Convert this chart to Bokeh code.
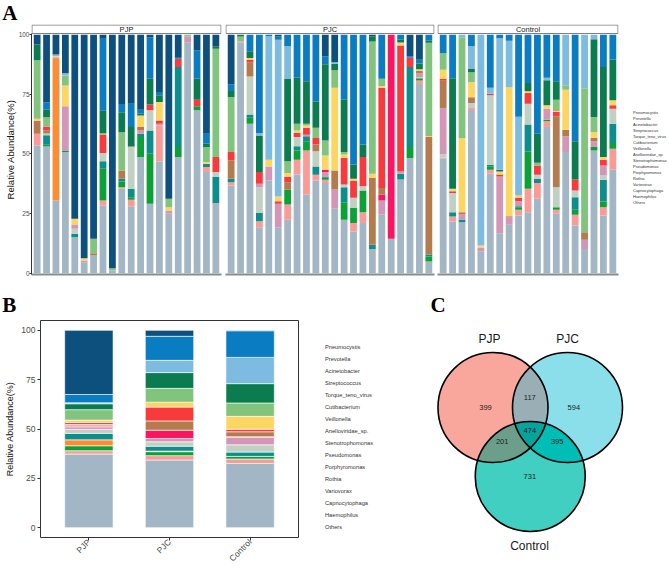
import math
import numpy as np
from bokeh.plotting import figure
from bokeh.models import Range1d, FixedTicker, Legend, LegendItem, ColumnDataSource
from bokeh.layouts import row, column
from bokeh.core.properties import value
from bokeh.embed import file_html
from bokeh.resources import INLINE

SANS = "Liberation Sans"
SERIF = "Liberation Serif"

# ---------------- data ----------------
GROUPS = ["PJP", "PJC", "Control"]
TAXA = ["Others", "Haemophilus", "Capnocytophaga", "Variovorax", "Rothia", "Porphyromonas",
        "Pseudomonas", "Stenotrophomonas", "Anelloviridae_sp.", "Veillonella", "Cutibacterium",
        "Torque_teno_virus", "Streptococcus", "Acinetobacter", "Prevotella", "Pneumocystis"]
KEYS = ["Ot", "Ha", "Ca", "Va", "Ro", "Po", "Ps", "Se", "An", "Ve", "Cu", "TT", "St", "Ac", "Pr", "Pn"]
COLORS = ["#a3b6c6", "#fb9b97", "#0ba137", "#fd8c33", "#0b8e8c", "#c0d0c3", "#d496b7", "#fb1562",
          "#b47b4f", "#f93a3c", "#fdd561", "#80c47d", "#0b7c50", "#7dbbe0", "#0a7dc2", "#0d4f7d"]

PJP_SAMPLES = [
    dict(Ot=53.6, Ha=4.9, An=5.3, Cu=1.0, TT=24.5, St=6.6, Pn=4.1),
    dict(Ot=53.1, Ca=0.8, Ro=4.0, Po=0.7, An=1.4, Ve=1.4, TT=4.0, St=3.2, Pr=3.0, Pn=28.4),
    dict(Ot=30.5, Va=59.4, Ps=0.7, Cu=0.5, Ac=0.6, Pn=8.3),
    dict(Ot=50.8, Ca=0.7, Ps=18.5, Cu=8.7, TT=4.2, Ac=1.0, Pn=16.1),
    dict(Ot=15.1, Po=2.1, Ps=1.8, Cu=2.4, Ro=1.4, Pn=77.2),
    dict(Ot=4.6, Ps=0.7, Cu=1.0, Pn=93.7),
    dict(Ot=7.4, An=1.0, TT=6.0, Pn=85.6),
    dict(Ot=28.4, Ha=2.1, Ca=13.3, Ro=3.2, Po=3.4, Ve=7.7, TT=0.7, St=9.5, Pr=30.0, Pn=1.7),
    dict(Ot=1.1, TT=1.0, Pn=97.9),
    dict(Ot=35.4, Ha=0.7, Ca=2.4, Ro=1.1, An=3.5, TT=16.0, St=8.4, Pr=3.5, Pn=29.0),
    dict(Ot=28.1, Ha=2.7, Ca=1.1, Ro=3.5, Po=17.5, An=0.4, St=8.0, Pr=9.8, Pn=28.9),
    dict(Ot=48.7, Ca=8.4, Ro=1.4, Ps=1.4, An=1.4, Cu=4.9, St=0.7, Pr=1.7, Pn=31.4),
    dict(Ot=29.1, Ca=21.0, Ro=9.8, Po=8.4, Ve=2.5, St=10.8, Pr=17.4, Pn=1.0),
    dict(Ot=46.9, Ha=15.1, Ps=0.7, Ve=1.4, Cu=7.7, St=2.8, Pr=1.4, Pn=24.0),
    dict(Ot=24.9, Ps=1.4, Cu=1.4, TT=3.5, Pn=68.8),
    dict(Ot=48.7, Ca=4.2, Ro=33.6, Ve=3.5, Pr=0.7, Pn=9.3),
    dict(Ot=96.9, Ps=2.4, TT=0.7),
    dict(Ot=68.3, Ca=1.7, Ve=2.8, St=8.8, Pr=11.9, Pn=6.5),
    dict(Ot=42.4, Ha=2.1, Ro=1.4, Cu=0.7, TT=6.3, St=1.4, Pr=4.2, Pn=41.5),
    dict(Ot=29.0, Ha=0.3, Ro=11.0, Po=2.1, Ve=6.3, TT=45.5, St=1.0, Pn=4.8),
]

PJC_SAMPLES = [
    dict(Ot=36.8, Ha=1.4, Ro=1.4, An=7.7, Ve=3.5, TT=23.1, St=2.5, Pr=2.8, Pn=20.8),
    dict(Ot=96.9, Ha=0.4, TT=2.0, St=0.7),
    dict(Ot=62.7, Ca=2.5, Ro=1.4, Po=15.9, An=6.0, Ve=1.0, Cu=0.8, St=2.8, Pr=6.9),
    dict(Ot=19.3, Ha=2.5, Ro=3.4, Po=10.9, Ps=1.4, Ve=4.9, St=15.4, Ac=1.0, Pr=41.2),
    dict(Ot=38.9, Ps=5.9, Cu=2.8, Ac=51.9, Pr=0.5),
    dict(Ot=19.3, Ps=9.8, Ve=1.1, Cu=2.0, Ac=65.7, Pr=1.4, Pn=0.7),
    dict(Ot=22.4, Ha=6.4, Ca=6.2, An=3.2, Ve=2.1, Cu=1.7, TT=5.0, St=34.5, Ac=13.7, Pr=4.8),
    dict(Ot=41.4, Ha=6.2, Ca=3.9, Ro=1.8, Po=3.8, Ve=1.8, Cu=1.0, TT=2.8, St=19.3, Pr=18.0),
    dict(Ot=32.9, Ha=18.6, Ca=3.9, Ro=2.0, Ps=0.7, Ve=2.8, Cu=1.1, TT=0.7, St=17.8, Pr=19.5),
    dict(Ot=38.9, Ha=2.4, Ro=3.5, Po=6.4, An=2.8, Ve=2.7, TT=4.3, St=11.0, Pr=28.0),
    dict(Ot=37.8, Ha=1.4, Ca=0.8, Ro=0.6, Ps=1.8, Se=1.0, Cu=6.0, TT=6.3, St=31.9, Pr=3.4, Pn=9.0),
    dict(Ot=27.0, Ps=8.1, An=8.0, Cu=34.7, TT=7.3, St=2.8, Ac=0.6, Pn=11.5),
    dict(Ot=22.4, Ca=7.4, Ro=6.3, Po=1.1, Ve=11.2, Cu=1.4, TT=1.0, St=22.0, Pr=27.2),
    dict(Ot=17.5, Ha=3.6, Ca=6.3, Po=4.2, Ve=7.3, Cu=0.7, St=6.0, Pr=54.4),
    dict(Ot=21.1, Ha=4.5, Ca=9.1, Po=1.8, Ve=12.2, St=5.3, Pr=46.0),
    dict(Ot=10.2, Ro=1.7, An=28.0, Cu=1.8, TT=55.5, St=2.1, Pn=0.7),
    dict(Ot=24.6, Ps=5.9, Se=2.4, An=2.8, Ve=42.1, Cu=0.7, TT=3.1, Pr=18.4),
    dict(Ot=14.4, Se=85.6),
    dict(Ot=39.3, Ro=2.4, Ps=1.0, Ve=52.8, Cu=1.3, St=1.1, Pr=2.1),
    dict(Ot=48.3, Ca=4.6, Ro=33.6, Ve=3.9, Pr=0.6, Pn=9.0),
    dict(Ot=79.4, Ha=1.4, Ca=1.0, Ps=1.5, Po=0.5, An=1.0, Cu=0.7, St=2.5, Pr=1.5, Pn=10.5),
    dict(Ot=4.9, Ca=2.1, Ro=0.8, An=49.3, Cu=0.4, TT=39.2, St=0.8, Pr=2.5),
]

CONTROL_SAMPLES = [
    dict(Ot=48.0, Ha=0.4, Po=1.5, Ps=19.3, An=11.5, Ve=0.8, Cu=3.8, TT=7.0, Pr=7.7),
    dict(Ot=21.7, Ha=2.1, Ro=1.8, Po=8.0, Ve=0.8, Cu=1.0, St=46.4, Pr=18.2),
    dict(Ot=21.4, Ro=1.1, Ps=2.1, An=1.0, Cu=31.0, TT=42.4, Ac=1.0),
    dict(Ot=68.5, Ha=0.8, Po=2.1, An=2.4, Cu=6.3, TT=4.2, St=1.4, Ac=9.5, Pr=4.8),
    dict(Ot=9.2, Ps=1.4, Cu=1.0, Ac=88.4),
    dict(Ot=41.7, Ha=1.7, Ca=1.5, Ro=0.6, Po=29.1, Ve=0.7, Ac=2.5, Pr=22.2),
    dict(Ot=16.8, Ps=23.8, Ve=0.8, Cu=1.3, St=0.7, Ac=55.2, Pr=1.4),
    dict(Ot=20.3, Ps=3.2, An=0.4, Cu=54.1, Ac=19.5, Pr=2.5),
    dict(Ot=24.2, Ha=2.4, Ca=1.1, Ro=0.4, Ps=2.1, Ve=1.4, Cu=1.0, Ac=33.0, Pr=34.4),
    dict(Ot=25.6, Ha=9.8, Ca=15.7, Ro=11.3, Po=8.7, Ve=4.5, Cu=0.7, St=3.5, Pr=20.2),
    dict(Ot=31.2, Ha=6.6, Ro=1.8, Po=1.7, Ve=3.9, TT=1.1, St=12.2, Pr=41.5),
    dict(Ot=61.3, Ha=2.4, Ca=0.7, Ps=4.6, Cu=1.4, St=10.5, Ac=1.1, Pr=18.0),
    dict(Ot=24.9, Ha=1.7, Ca=1.1, Po=8.4, An=29.7, Ve=1.8, Cu=0.4, TT=4.8, St=7.7, Pr=19.5),
    dict(Ot=50.8, Ps=6.6, An=2.8, Cu=16.8, TT=1.8, Ac=21.2),
    dict(Ot=20.0, Ha=4.5, Ca=2.1, Ro=5.3, Po=2.8, Ve=4.6, St=16.1, Pr=44.6),
    dict(Ot=10.2, Ps=3.8, An=3.2, TT=60.4, Ac=22.4),
    dict(Ot=51.5, Ca=1.4, Ps=2.5, An=1.4, Cu=2.4, TT=6.3, St=32.6, Ac=1.9),
    dict(Ot=24.2, Ha=3.5, Ca=2.4, Ro=9.1, Po=1.8, Ps=4.2, Ve=2.4, Cu=1.1, St=37.8, Pr=13.5),
    dict(Ot=43.4, Ha=8.8, Ca=2.4, Ro=8.1, Po=6.3, Ve=1.4, Cu=2.1, St=17.1, Pr=10.4),
]

MEAN_PJP = dict(Ot=37.3, Ha=1.7, Ca=2.5, Va=3.0, Ro=3.3, Po=2.0, Ps=1.3, Se=0.5, An=0.7, Ve=1.0,
                Cu=1.2, TT=5.3, St=3.0, Ac=0.5, Pr=4.2, Pn=32.5)
MEAN_PJC = dict(Ot=34.3, Ha=2.2, Ca=2.0, Va=0.3, Ro=2.5, Po=2.2, Ps=1.7, Se=4.2, An=4.7, Ve=7.0,
                Cu=2.5, TT=7.0, St=8.0, Ac=6.2, Pr=12.2, Pn=3.0)
MEAN_CONTROL = dict(Ot=32.5, Ha=2.3, Ca=1.3, Va=0.0, Ro=2.2, Po=3.7, Ps=3.8, Se=0.3, An=2.5, Ve=1.3,
                    Cu=6.5, TT=6.8, St=9.8, Ac=13.3, Pr=13.5, Pn=0.2)

VENN_SETS = ["PJP", "PJC", "Control"]
VENN_COUNTS = [399, 117, 594, 474, 201, 395, 731]
PANEL_LETTERS = ["A", "B", "C"]

# ---------------- helpers ----------------
UNIT = 9.4
A_FRAME_H = 250
A_BOTTOM = 4
PAGE_W = 668


def blank(w, h, xr=(0, 1), yr=(0, 1)):
    p = figure(width=w, height=h, x_range=Range1d(*xr), y_range=Range1d(*yr),
               output_backend="svg", toolbar_location=None, min_border=0,
               x_axis_location=None, y_axis_location=None)
    p.grid.grid_line_color = None
    p.outline_line_color = None
    return p


def letter_band(letters, xs, h):
    p = blank(PAGE_W, h, (0, PAGE_W), (h, 0))
    p.text(x=xs, y=[h] * len(letters), text=letters, text_align="left", text_baseline="bottom",
           text_font=value(SERIF), text_font_style="bold", text_font_size="21px", text_color="black")
    return p


def legend_fig(w, h, loc, glyph, label_h, spacing, standoff, font_size, line_color):
    p = blank(w, h)
    rs = [p.vbar(x=[], top=[], width=0.5, fill_color=c, line_color=line_color, line_width=0.6)
          for c in COLORS]
    items = [LegendItem(label=TAXA[i], renderers=[rs[i]]) for i in reversed(range(len(TAXA)))]
    leg = Legend(items=items, location=loc, orientation="vertical",
                 glyph_width=glyph, glyph_height=glyph, label_height=label_h,
                 label_standoff=standoff, spacing=spacing, padding=0, margin=0,
                 border_line_color=None, background_fill_alpha=0,
                 label_text_font=SANS, label_text_font_size=font_size, label_text_color="#333333")
    p.add_layout(leg)
    return p


def table(samples):
    d = {"x": list(range(len(samples)))}
    for k in KEYS:
        d[k] = [s.get(k, 0.0) for s in samples]
    return d


def facet(name, samples, lb, fw, rb, show_y):
    n = len(samples)
    p = figure(width=lb + fw + rb, height=A_FRAME_H + A_BOTTOM,
               x_range=Range1d(-0.6, n - 0.4), y_range=Range1d(-0.545, 104.32),
               output_backend="svg", toolbar_location=None,
               min_border_left=lb, min_border_right=rb, min_border_top=0, min_border_bottom=A_BOTTOM,
               y_axis_location="left" if show_y else None)
    p.outline_line_color = None
    p.grid.grid_line_color = None
    p.vbar_stack(KEYS, x="x", width=0.72, source=ColumnDataSource(table(samples)),
                 fill_color=COLORS, line_color=None)
    # facet strip
    p.quad(left=[-0.55], right=[n - 0.45], bottom=[100.55], top=[104.1],
           fill_color="white", line_color="#808080", line_width=1)
    p.text(x=[(n - 1) / 2], y=[102.35], text=[name], text_align="center", text_baseline="middle",
           text_font=value(SANS), text_font_size="7.5px", text_color="#1a1a1a")
    xa = p.xaxis[0]
    xa.ticker = FixedTicker(ticks=[])
    xa.axis_line_color = "#8c8c8c"
    xa.axis_line_width = 2
    xa.major_tick_line_color = None
    xa.minor_tick_line_color = None
    xa.major_tick_out = 0
    xa.minor_tick_out = 0
    xa.major_label_standoff = 0
    xa.major_label_text_font_size = "0px"
    if show_y:
        ya = p.yaxis[0]
        ya.ticker = FixedTicker(ticks=[0, 25, 50, 75, 100])
        ya.bounds = (-0.545, 100.55)
        ya.axis_line_color = "#333333"
        ya.major_tick_line_color = "#333333"
        ya.major_tick_out = 2
        ya.major_tick_in = 0
        ya.minor_tick_line_color = None
        ya.minor_tick_out = 0
        ya.major_label_text_font = SANS
        ya.major_label_text_font_size = "6.5px"
        ya.major_label_text_color = "#4d4d4d"
        ya.major_label_standoff = 0
        ya.axis_label = "Relative Abundance(%)"
        ya.axis_label_text_font = SANS
        ya.axis_label_text_font_style = "normal"
        ya.axis_label_text_font_size = "9.5px"
        ya.axis_label_text_color = "#111111"
        ya.axis_label_standoff = 0
    return p


# ---------------- panel A ----------------
letA = letter_band(PANEL_LETTERS[:1], [1.7], 24)
pA1 = facet(GROUPS[0], PJP_SAMPLES, 31, 190, 2, True)
pA2 = facet(GROUPS[1], PJC_SAMPLES, 2, 209, 2, False)
pA3 = facet(GROUPS[2], CONTROL_SAMPLES, 1, 181, 1, False)
legA = legend_fig(50, A_FRAME_H + A_BOTTOM, (7, 69), 5, 6, 0, 2, "4px", None)

# ---------------- letters B / C ----------------
BAND_H = 38
ROW2_TOP = 24 + A_FRAME_H + A_BOTTOM + BAND_H
letBC = letter_band(PANEL_LETTERS[1:], [1.7, 430.0], BAND_H)

# ---------------- panel B ----------------
B_FRAME_H = 220
B_LEFT, B_RIGHT, B_TOP, B_BOTTOM = 40, 12, 4, 29
pB = figure(width=B_LEFT + 258 + B_RIGHT, height=B_TOP + B_FRAME_H + B_BOTTOM,
            x_range=Range1d(-0.6, 2.6), y_range=Range1d(-5, 105),
            output_backend="svg", toolbar_location=None,
            min_border_left=B_LEFT, min_border_right=B_RIGHT, min_border_top=B_TOP,
            min_border_bottom=B_BOTTOM)
pB.grid.grid_line_color = None
pB.outline_line_color = "#333333"
pB.outline_line_width = 1
srcB = {"x": list(range(len(GROUPS)))}
for k in KEYS:
    srcB[k] = [MEAN_PJP[k], MEAN_PJC[k], MEAN_CONTROL[k]]
pB.vbar_stack(KEYS, x="x", width=0.6, source=ColumnDataSource(srcB),
              fill_color=COLORS, line_color="white", line_width=0.6)
yb = pB.yaxis[0]
yb.ticker = FixedTicker(ticks=[0, 25, 50, 75, 100])
yb.axis_line_color = None
yb.major_tick_line_color = "#333333"
yb.major_tick_out = 3
yb.major_tick_in = 0
yb.minor_tick_line_color = None
yb.minor_tick_out = 0
yb.major_label_text_font = SANS
yb.major_label_text_font_size = "8.5px"
yb.major_label_text_color = "#4d4d4d"
yb.major_label_standoff = 2
yb.axis_label = "Relative Abundance(%)"
yb.axis_label_text_font = SANS
yb.axis_label_text_font_style = "normal"
yb.axis_label_text_font_size = "9px"
yb.axis_label_text_color = "#111111"
yb.axis_label_standoff = 3
xb = pB.xaxis[0]
xb.ticker = FixedTicker(ticks=list(range(len(GROUPS))))
xb.major_label_overrides = {i: g for i, g in enumerate(GROUPS)}
xb.major_label_orientation = math.pi / 4
xb.axis_line_color = None
xb.major_tick_line_color = "#333333"
xb.major_tick_out = 3
xb.major_tick_in = 0
xb.minor_tick_line_color = None
xb.minor_tick_out = 0
xb.major_label_text_font = SANS
xb.major_label_text_font_size = "8.5px"
xb.major_label_text_color = "#4d4d4d"
xb.major_label_standoff = 0

ROW2_H = B_TOP + B_FRAME_H + B_BOTTOM
legB = legend_fig(115, ROW2_H, (0, 37), 10, 11, 1, 5, "5.7px", "white")

# ---------------- panel C (Venn) ----------------
pC = blank(PAGE_W - 425, ROW2_H, (425, PAGE_W), (ROW2_TOP + ROW2_H, ROW2_TOP))

R = 55.0
CENTERS = [(492.5, 407.0), (567.0, 407.0), (529.75, 476.0)]
SET_FILL = ["#f9a69c", "#8adfea", "#40cfc0"]
OVERLAPS = [((0, 1), "#9aafb5"), ((0, 2), "#6b9f8c"), ((1, 2), "#00beb6"), ((0, 1, 2), "#08a49c")]


def boundary(c, n=1440):
    t = np.linspace(0, 2 * np.pi, n, endpoint=False)
    return np.c_[c[0] + R * np.cos(t), c[1] + R * np.sin(t)]


def intersection(idx):
    pts = []
    for i in idx:
        P = boundary(CENTERS[i])
        mask = np.ones(len(P), dtype=bool)
        for j in idx:
            if j != i:
                mask &= np.hypot(P[:, 0] - CENTERS[j][0], P[:, 1] - CENTERS[j][1]) <= R + 1e-9
        pts.append(P[mask])
    pts = np.vstack(pts)
    m = pts.mean(axis=0)
    order = np.argsort(np.arctan2(pts[:, 1] - m[1], pts[:, 0] - m[0]))
    return pts[order]


pC.circle(x=[c[0] for c in CENTERS], y=[c[1] for c in CENTERS], radius=R,
          fill_color=SET_FILL, line_color=None)
for idx, col in OVERLAPS:
    poly = intersection(idx)
    pC.patch(x=poly[:, 0], y=poly[:, 1], fill_color=col, line_color=None)
pC.circle(x=[c[0] for c in CENTERS], y=[c[1] for c in CENTERS], radius=R,
          fill_color=None, line_color="black", line_width=1.6)

COUNT_POS = [(485.0, 407.3), (529.3, 396.7), (573.3, 407.3), (529.3, 430.0),
             (501.7, 440.7), (556.7, 440.7), (529.3, 476.0)]
pC.text(x=[p[0] for p in COUNT_POS], y=[p[1] for p in COUNT_POS], text=[str(v) for v in VENN_COUNTS],
        text_align="center", text_baseline="middle", text_font=value(SANS), text_font_size="7.5px",
        text_color="#222222")
SET_LABEL_POS = [(489.0, 338.0), (567.0, 338.0), (529.0, 545.0)]
pC.text(x=[p[0] for p in SET_LABEL_POS], y=[p[1] for p in SET_LABEL_POS], text=VENN_SETS,
        text_align="center", text_baseline="middle", text_font=value(SANS), text_font_size="12px",
        text_color="#1a1a1a")

layout = column(letA,
                row(pA1, pA2, pA3, legA),
                letBC,
                row(column(pB), legB, pC))
open("out.html", "w").write(file_html(layout, INLINE))
